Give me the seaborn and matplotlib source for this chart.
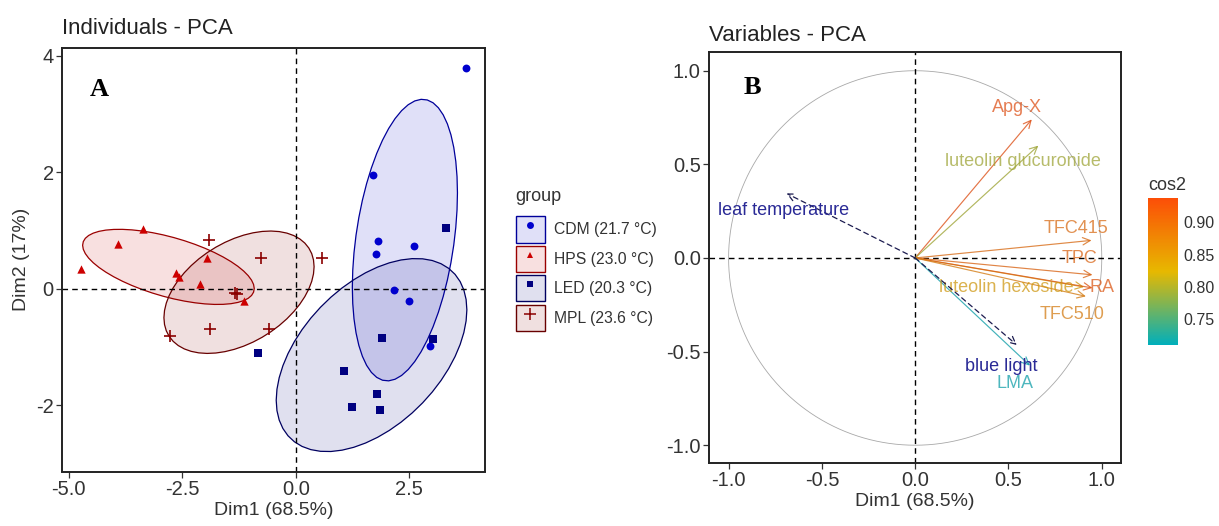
import numpy as np
import pandas as pd
import matplotlib
matplotlib.use("Agg")
import matplotlib.pyplot as plt
import seaborn as sns
from matplotlib.colors import LinearSegmentedColormap, Normalize, to_rgba
from matplotlib.cm import ScalarMappable
from matplotlib.patches import Patch, Polygon
from matplotlib.lines import Line2D
from matplotlib.legend_handler import HandlerTuple

# ---------------- data: individuals (PCA scores) ----------------
groups = ["CDM", "HPS", "LED", "MPL"]
group_labels = ["CDM (21.7 °C)", "HPS (23.0 °C)", "LED (20.3 °C)", "MPL (23.6 °C)"]

cdm_dim1 = [3.75, 1.70, 1.81, 1.76, 2.60, 2.17, 2.49, 2.96]
cdm_dim2 = [3.79, 1.95, 0.82, 0.59, 0.73, -0.02, -0.22, -0.98]
hps_dim1 = [-4.74, -3.91, -3.36, -2.63, -2.58, -1.96, -2.11, -1.15]
hps_dim2 = [0.33, 0.77, 1.03, 0.26, 0.20, 0.52, 0.08, -0.21]
led_dim1 = [3.31, 1.91, 3.02, -0.84, 1.07, 1.79, 1.24, 1.86]
led_dim2 = [1.04, -0.85, -0.86, -1.11, -1.42, -1.81, -2.03, -2.09]
mpl_dim1 = [-1.91, -0.77, 0.57, -1.33, -1.30, -1.90, -0.60, -2.76]
mpl_dim2 = [0.84, 0.52, 0.52, -0.07, -0.10, -0.69, -0.70, -0.82]

# ---------------- data: variables (correlation circle) ----------------
variables = ["Apg-X", "luteolin glucuronide", "TFC415", "TPC",
             "luteolin hexoside", "RA", "TFC510", "LMA"]
var_dim1 = [0.625, 0.66, 0.945, 0.95, 0.905, 0.95, 0.915, 0.615]
var_dim2 = [0.74, 0.60, 0.094, -0.09, -0.155, -0.16, -0.205, -0.575]

sup_variables = ["leaf temperature", "blue light"]
sup_dim1 = [-0.69, 0.545]
sup_dim2 = [0.345, -0.465]

# label placement (offset from arrow tip)
label_offsets = {
    "Apg-X": (-0.079, 0.063),
    "luteolin glucuronide": (-0.08, -0.086),
    "TFC415": (-0.082, 0.066),
    "TPC": (-0.069, 0.086),
    "luteolin hexoside": (-0.416, -0.004),
    "RA": (0.05, 0.001),
    "TFC510": (-0.072, -0.098),
    "LMA": (-0.078, -0.093),
    "leaf temperature": (-0.016, -0.091),
    "blue light": (-0.082, -0.114),
}

# ---------------- style ----------------
sns.set_theme(style="white")
plt.rcParams["font.family"] = ["Liberation Sans", "DejaVu Sans"]
TXT = "#333333"

palette = {"CDM": "#0000CD", "HPS": "#CD0000", "LED": "#000080", "MPL": "#8B0000"}
markers = {"CDM": "o", "HPS": "^", "LED": "s", "MPL": "+"}
msize = {"CDM": 32, "HPS": 36, "LED": 30, "MPL": 85}

ind = pd.DataFrame({
    "Dim1": cdm_dim1 + hps_dim1 + led_dim1 + mpl_dim1,
    "Dim2": cdm_dim2 + hps_dim2 + led_dim2 + mpl_dim2,
    "group": ["CDM"] * 8 + ["HPS"] * 8 + ["LED"] * 8 + ["MPL"] * 8,
})


def darker(c, k=0.25):
    r, g, b, _ = to_rgba(c)
    return (r * (1 - k), g * (1 - k), b * (1 - k))


def norm_ellipse(x, level=0.68, segments=51):
    """Concentration ellipse from the sample covariance, F-based radius."""
    n = x.shape[0]
    center = x.mean(axis=0)
    shape = np.cov(x, rowvar=False)
    d2 = n - 1
    qf = d2 / 2.0 * ((1 - level) ** (-2.0 / d2) - 1)   # F(2, n-1) quantile
    radius = np.sqrt(2 * qf)
    ang = np.linspace(0, 2 * np.pi, segments)
    circ = np.column_stack([np.cos(ang), np.sin(ang)])
    L = np.linalg.cholesky(shape)
    return center + radius * circ @ L.T


fig = plt.figure(figsize=(12.19, 5.26), dpi=100)
W, H = 1219, 526
ax1 = fig.add_axes([62 / W, 1 - 471.5 / H, (485 - 62) / W, (471.5 - 48) / H])
ax2 = fig.add_axes([709 / W, 1 - 463 / H, 412 / W, 411 / H])

# ---------------- panel A: individuals ----------------
for g in groups:
    sub = ind[ind["group"] == g]
    pts = sub[["Dim1", "Dim2"]].to_numpy()
    ell = norm_ellipse(pts)
    ax1.add_patch(Polygon(ell, closed=True, facecolor=to_rgba(palette[g], 0.12),
                          edgecolor=darker(palette[g]), linewidth=0.9, zorder=1))

ax1.axhline(0, color="black", ls=(0, (4, 3)), lw=1.0, zorder=2)
ax1.axvline(0, color="black", ls=(0, (4, 3)), lw=1.0, zorder=2)

for g in groups:
    sub = ind[ind["group"] == g]
    kw = dict(linewidth=0) if g != "MPL" else dict(linewidth=1.2)
    sns.scatterplot(data=sub, x="Dim1", y="Dim2", marker=markers[g],
                    color=palette[g], s=msize[g], ax=ax1, legend=False,
                    zorder=3, **kw)

ax1.set_xlim(-5.15, 4.17)
ax1.set_ylim(-3.14, 4.13)
ax1.set_xticks([-5.0, -2.5, 0.0, 2.5])
ax1.set_xticklabels(["-5.0", "-2.5", "0.0", "2.5"])
ax1.set_yticks([-2, 0, 2, 4])
ax1.set_yticklabels(["-2", "0", "2", "4"])
ax1.set_xlabel("Dim1 (68.5%)", fontsize=14, color=TXT, labelpad=2)
ax1.set_ylabel("Dim2 (17%)", fontsize=14, color=TXT, labelpad=4)
ax1.set_title("Individuals - PCA", loc="left", fontsize=16, color="#222222", pad=10)
ax1.text(0.0875, 0.903, "A", transform=ax1.transAxes, fontsize=19, fontweight="bold",
         family="Liberation Serif", ha="center", va="center", color="black")

# legend with boxed keys
handles = []
for g in groups:
    box = Patch(facecolor=to_rgba(palette[g], 0.12), edgecolor=darker(palette[g]),
                linewidth=1.0)
    mk = Line2D([], [], marker=markers[g], color=palette[g], linestyle="",
                markersize=5 if g != "MPL" else 9, markeredgewidth=1.1 if g == "MPL" else 0)
    handles.append((box, mk))
fig.text(515 / W, 1 - 196 / H, "group", fontsize=13, color=TXT, ha="left", va="center")
leg = fig.legend(handles, group_labels, handler_map={tuple: HandlerTuple(ndivide=1)},
                 loc="upper left", bbox_to_anchor=(510 / W, 1 - 210 / H),
                 frameon=False, fontsize=11.3,
                 handlelength=1.8, handleheight=2.2, labelspacing=0.2,
                 handletextpad=0.6, borderaxespad=0, alignment="left")
for t in leg.get_texts():
    t.set_color(TXT)

# ---------------- panel B: variables ----------------
theta = np.linspace(0, 2 * np.pi, 361)
ax2.plot(np.cos(theta), np.sin(theta), color="#a8a8a8", lw=0.6, zorder=1)
ax2.axhline(0, color="black", ls=(0, (4, 3)), lw=1.0, zorder=2)
ax2.axvline(0, color="black", ls=(0, (4, 3)), lw=1.0, zorder=2)

cos2 = np.array(var_dim1) ** 2 + np.array(var_dim2) ** 2
cmap = LinearSegmentedColormap.from_list("cos2", ["#00AFBB", "#E7B800", "#FC4E07"])
norm = Normalize(vmin=cos2.min(), vmax=cos2.max())


def muted(c, k=0.2):
    r, g, b, _ = c
    return (r * (1 - k) + 0.38 * k, g * (1 - k) + 0.38 * k, b * (1 - k) + 0.38 * k)


for name, x, y, c in zip(variables, var_dim1, var_dim2, cos2):
    col = muted(cmap(norm(c)))
    ax2.annotate("", xy=(x, y), xytext=(0, 0),
                 arrowprops=dict(arrowstyle="->,head_length=0.45,head_width=0.22",
                                 color=col, lw=0.85, alpha=0.8, shrinkA=0, shrinkB=0),
                 zorder=3)
    dx, dy = label_offsets[name]
    ax2.text(x + dx, y + dy, name, color=col, alpha=0.75, fontsize=13,
             ha="center", va="center", zorder=4)

for name, x, y in zip(sup_variables, sup_dim1, sup_dim2):
    ax2.annotate("", xy=(x, y), xytext=(0, 0),
                 arrowprops=dict(arrowstyle="->,head_length=0.45,head_width=0.22",
                                 color="#1c1c50", lw=0.9, linestyle=(0, (4, 3)),
                                 shrinkA=0, shrinkB=0),
                 zorder=5)
    dx, dy = label_offsets[name]
    ax2.text(x + dx, y + dy, name, color="#2a2a96", fontsize=13,
             ha="center", va="center", zorder=6)

ax2.set_xlim(-1.105, 1.103)
ax2.set_ylim(-1.095, 1.10)
ax2.set_xticks([-1.0, -0.5, 0.0, 0.5, 1.0])
ax2.set_xticklabels(["-1.0", "-0.5", "0.0", "0.5", "1.0"])
ax2.set_yticks([-1.0, -0.5, 0.0, 0.5, 1.0])
ax2.set_yticklabels(["-1.0", "-0.5", "0.0", "0.5", "1.0"])
ax2.set_xlabel("Dim1 (68.5%)", fontsize=14, color=TXT, labelpad=2)
ax2.set_ylabel("")
ax2.set_title("Variables - PCA", loc="left", fontsize=16, color="#222222", pad=8)
ax2.text(0.106, 0.914, "B", transform=ax2.transAxes, fontsize=19, fontweight="bold",
         family="Liberation Serif", ha="center", va="center", color="black")

for ax in (ax1, ax2):
    for s in ax.spines.values():
        s.set_visible(True)
        s.set_color("#222222")
        s.set_linewidth(1.4)
    ax.tick_params(axis="both", which="major", direction="out", length=4, width=0.9,
                   color="#333333", labelsize=14.5, labelcolor=TXT, pad=2,
                   bottom=True, left=True)
    ax.grid(False)

# colour bar for cos2
cax = fig.add_axes([1148 / W, 1 - 345 / H, 30 / W, 147 / H])
cb = fig.colorbar(ScalarMappable(norm=norm, cmap=cmap), cax=cax)
cb.outline.set_visible(False)
cb.set_ticks([0.75, 0.80, 0.85, 0.90])
cb.set_ticklabels(["0.75", "0.80", "0.85", "0.90"])
cax.tick_params(axis="y", direction="in", length=5, width=0.8, color="white",
                left=True, right=True, labelsize=11.5, labelcolor=TXT, pad=4)
cax.set_title("cos2", loc="left", fontsize=13, color=TXT, pad=6)

fig.savefig("out.png", dpi=100, facecolor="white")
